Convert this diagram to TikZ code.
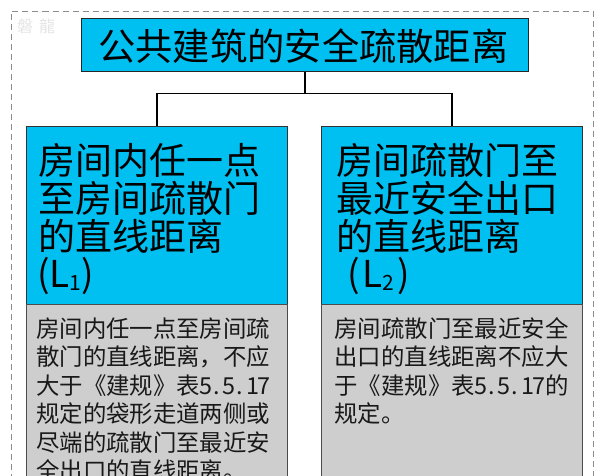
\documentclass[tikz,border=0pt]{standalone}
\usepackage{fontspec}
\newfontfamily\cjk{Noto Sans CJK SC}
\definecolor{boxcyan}{RGB}{0,192,242}
\definecolor{boxgray}{RGB}{206,206,206}
\definecolor{dashgray}{RGB}{140,140,140}
\newcommand\halfc[1]{\makebox[0.5em][c]{#1}}
\newcommand\halfp{\makebox[0.5em][l]{\hspace{0.08em}.}}
\tikzset{
  dashline/.style={draw=dashgray, line width=1pt, dash pattern=on 6pt off 4pt},
  titlebox/.style={draw=black!85, line width=1.1pt, fill=boxcyan, inner sep=0pt,
    minimum width=447pt, minimum height=53.5pt},
  titletxt/.style={inner sep=0pt, font=\cjk\fontsize{37.3}{37.3}\selectfont},
  headbox/.style={draw=black!80, line width=1.1pt, fill=boxcyan, inner sep=0pt,
    anchor=north west, minimum width=261pt, minimum height=178pt},
  bodybox/.style={draw=black!70, line width=1.1pt, fill=boxgray, inner sep=0pt,
    anchor=north west, minimum width=261pt, minimum height=190pt},
  headtxt/.style={inner sep=0pt, anchor=base west, font=\cjk\fontsize{37}{37}\selectfont},
  bodytxt/.style={inner sep=0pt, anchor=base west, text=black!90, font=\cjk\fontsize{23.4}{23.4}\selectfont},
  conn/.style={draw=black, line width=1.5pt},
  wmark/.style={inner sep=0pt, anchor=west, text=black!10, font=\cjk\fontsize{16}{16}\selectfont}
}
\begin{document}
\begin{tikzpicture}[x=1pt,y=-1pt]
\useasboundingbox (0,0) rectangle (600,476);
\clip (0,0) rectangle (600,476);
\fill[white] (0,0) rectangle (600,476);
\draw[dashline] (11,490) -- (11,11.5) -- (593,11.5) -- (593,490);
\node[wmark] (wm) at (17,26) {磐\hspace{6pt}龍};

% title
\node[titlebox] (title) at (305,45) {};
\node[titletxt, anchor=base west] (titlet) at (98,60.5) {公共建筑的安全疏散距离};

% boxes
\node[headbox] (hl) at (26,126) {};
\node[headbox] (hr) at (321,126) {};
\node[bodybox] (bl) at (26,304) {};
\node[bodybox] (br) at (321,304) {};

% connectors
\coordinate (jn) at (305,93.5);
\draw[conn] (title.south) -- (jn);
\draw[conn] (hl.north) -- (hl.north |- jn) -- (hr.north |- jn) -- (hr.north);

% left header
\node[headtxt] (hl1) at (38,175) {房间内任一点};
\node[headtxt] (hl2) at (38,212.5) {至房间疏散门};
\node[headtxt] (hl3) at (38,250) {的直线距离};
\node[headtxt] (hl4) at (37,287.5) {(L\raisebox{-3pt}{\fontsize{21}{21}\selectfont 1})};

% right header
\node[headtxt] (hr1) at (336.5,175) {房间疏散门至};
\node[headtxt] (hr2) at (336.5,212.5) {最近安全出口};
\node[headtxt] (hr3) at (336.5,250) {的直线距离};
\node[headtxt] (hr4) at (347,287.5) {(\hspace{3pt}L\raisebox{-3pt}{\fontsize{21}{21}\selectfont 2}\hspace{3pt})};

% left body
\node[bodytxt] (bl1) at (36,337) {房间内任一点至房间疏};
\node[bodytxt] (bl2) at (36,365.5) {散门的直线距离，不应};
\node[bodytxt] (bl3) at (36,394) {大于《建规》表\halfc{5}\halfp\halfc{5}\halfp\halfc{1}\halfc{7}};
\node[bodytxt] (bl4) at (36,422.5) {规定的袋形走道两侧或};
\node[bodytxt] (bl5) at (36,451) {尽端的疏散门至最近安};
\node[bodytxt] (bl6) at (36,479.5) {全出口的直线距离。};

% right body
\node[bodytxt] (br1) at (334.3,337) {房间疏散门至最近安全};
\node[bodytxt] (br2) at (334.3,365.5) {出口的直线距离不应大};
\node[bodytxt] (br3) at (334.3,394) {于《建规》表\halfc{5}\halfp\halfc{5}\halfp\halfc{1}\halfc{7}的};
\node[bodytxt] (br4) at (334.3,422.5) {规定。};
\end{tikzpicture}
\end{document}
